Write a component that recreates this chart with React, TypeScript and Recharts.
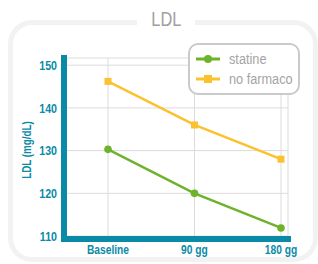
import React from 'react';
import { LineChart, Line, XAxis, YAxis, CartesianGrid, Legend } from 'recharts';

// dati
const categories = ['Baseline', '90 gg', '180 gg'];
const statine = [130.3, 120, 111.9];
const noFarmaco = [146.2, 136, 128];
const yTicks = [110, 120, 130, 140, 150];

const series = [
  { key: 'statine', name: 'statine', color: '#6fb22c', shape: 'circle' },
  { key: 'noFarmaco', name: 'no farmaco', color: '#fcc12e', shape: 'square' },
];

const data = categories.map((c, i) => ({ name: c, statine: statine[i], noFarmaco: noFarmaco[i] }));

const TEAL = '#0b8aa8';
const FONT = '"Liberation Sans", Arial, sans-serif';
const NARROW = 0.82; // il font originale e' condensato

const SquareDot = (props: any) => {
  const { cx, cy, key } = props;
  if (cx == null || cy == null) return null;
  return <rect key={key ?? `${cx}-${cy}`} x={cx - 3.5} y={cy - 3.5} width={7} height={7} fill="#fcc12e" />;
};

const XTick = (props: any) => {
  const { x, y, payload } = props;
  return (
    <g transform={`translate(${x},${y})`}>
      <text
        transform={`scale(${NARROW},1)`}
        textAnchor="middle"
        dy="0.71em"
        fill={TEAL}
        fontSize={12.5}
        fontWeight={700}
        fontFamily={FONT}
      >
        {payload.value}
      </text>
    </g>
  );
};

const YTick = (props: any) => {
  const { x, y, payload } = props;
  return (
    <g transform={`translate(${x},${y})`}>
      <text
        transform={`scale(${NARROW},1)`}
        textAnchor="end"
        dy="0.355em"
        fill={TEAL}
        fontSize={13}
        fontWeight={700}
        fontFamily={FONT}
      >
        {payload.value}
      </text>
    </g>
  );
};

const Narrow = ({ children }: { children: React.ReactNode }) => (
  <span style={{ display: 'inline-block', transform: `scaleX(${NARROW})`, transformOrigin: 'left center', whiteSpace: 'nowrap' }}>
    {children}
  </span>
);

const LegendBox = () => (
  <div
    style={{
      width: 112,
      height: 52,
      boxSizing: 'border-box',
      border: '2px solid #cacaca',
      borderRadius: 10,
      background: '#fff',
      padding: '4px 0 0 6px',
      fontFamily: FONT,
      fontSize: 15.5,
      color: '#a4a4a4',
      whiteSpace: 'nowrap',
    }}
  >
    {series.map((s) => (
      <div key={s.key} style={{ display: 'flex', alignItems: 'center', height: 20 }}>
        <svg width={24} height={10} style={{ marginRight: 9, flex: 'none' }}>
          <line x1={0} y1={5} x2={24} y2={5} stroke={s.color} strokeWidth={3} />
          {s.shape === 'circle' ? (
            <circle cx={12} cy={5} r={4} fill={s.color} />
          ) : (
            <rect x={8} y={1} width={8} height={8} fill={s.color} />
          )}
        </svg>
        <Narrow>{s.name}</Narrow>
      </div>
    ))}
  </div>
);

export default function App() {
  return (
    <div style={{ position: 'fixed', left: 0, top: 0, width: 318, height: 264, background: '#fff', overflow: 'hidden' }}>
      {/* cornice arrotondata */}
      <div
        style={{
          position: 'absolute',
          left: 8,
          top: 20,
          width: 310,
          height: 242,
          boxSizing: 'border-box',
          border: '5px solid #f2f2f2',
          borderRadius: 24,
        }}
      />
      <div
        style={{
          position: 'absolute',
          left: 137,
          top: 6,
          width: 58,
          textAlign: 'center',
          background: '#fff',
          fontFamily: FONT,
          fontSize: 20,
          lineHeight: '26px',
          color: '#a0a0a0',
        }}
      >
        <span style={{ display: 'inline-block', transform: `scaleX(${NARROW})` }}>LDL</span>
      </div>
      <div style={{ position: 'absolute', left: 0, top: 0 }}>
        <LineChart width={318} height={264} data={data} margin={{ top: 58, right: 30, bottom: 0, left: 0 }}>
          <CartesianGrid stroke="#dcdcdc" strokeWidth={1} />
          <XAxis
            dataKey="name"
            padding={{ left: 44, right: 7 }}
            height={25}
            tickLine={false}
            tickSize={0}
            tickMargin={6}
            axisLine={{ stroke: TEAL, strokeWidth: 6, strokeLinecap: 'square' }}
            tick={<XTick />}
            interval={0}
          />
          <YAxis
            width={64}
            domain={[109.31, 151.68]}
            ticks={yTicks}
            tickLine={false}
            tickSize={0}
            tickMargin={7}
            axisLine={{ stroke: TEAL, strokeWidth: 6, strokeLinecap: 'square' }}
            tick={<YTick />}
            label={{
              content: () => (
                <text
                  x={27}
                  y={150}
                  transform={`translate(27 150) rotate(-90) scale(${NARROW},1) translate(-27 -150)`}
                  textAnchor="middle"
                  dominantBaseline="central"
                  fill={TEAL}
                  fontSize={12}
                  fontWeight={700}
                  fontFamily={FONT}
                >
                  LDL (mg/dL)
                </text>
              ),
            }}
          />
          <Legend
            layout="horizontal"
            verticalAlign="middle"
            align="center"
            content={() => <LegendBox />}
            wrapperStyle={{ position: 'absolute', left: 188, top: 43, width: 112, height: 52 }}
          />
          <Line
            dataKey="statine"
            name="statine"
            stroke="#6fb22c"
            strokeWidth={2.5}
            dot={{ r: 3.8, fill: '#6fb22c', stroke: 'none' }}
            isAnimationActive={false}
          />
          <Line
            dataKey="noFarmaco"
            name="no farmaco"
            stroke="#fcc12e"
            strokeWidth={2.5}
            dot={SquareDot}
            isAnimationActive={false}
          />
        </LineChart>
      </div>
    </div>
  );
}
